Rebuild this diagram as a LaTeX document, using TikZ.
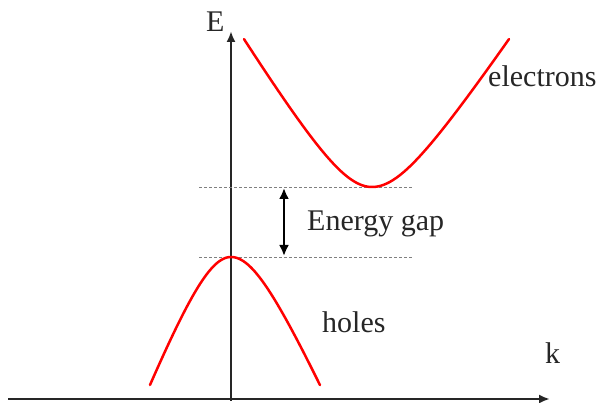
\documentclass[tikz,border=0pt]{standalone}
\usepackage{fontspec}
\setmainfont{Liberation Serif}
\usetikzlibrary{arrows.meta}
\begin{document}
\begin{tikzpicture}[x=1pt,y=-1pt,
  axis/.style={line width=2.8pt,draw=black!85,-{Latex[length=11pt,width=9pt]}},
  band/.style={line width=2.5pt,draw=red,line cap=round},
  level/.style={line width=0.9pt,draw=gray,dash pattern=on 3pt off 2pt},
  gaparrow/.style={line width=2.8pt,{Latex[length=11pt,width=10pt]}-{Latex[length=11pt,width=10pt]}},
  lbl/.style={font=\fontsize{30}{33}\selectfont,inner sep=0pt,anchor=base west,text=black!85}]
\useasboundingbox (0,0) rectangle (603,403);
% axes
\coordinate (kstart) at (8,399);
\coordinate (kend) at (550,399);
\coordinate (estart) at (231,401);
\coordinate (eend) at (231,31);
\draw[axis] (kstart) -- (kend);
\draw[axis] (estart) -- (eend);
% levels
\coordinate (cbL) at (199,187);
\coordinate (cbR) at (413,187);
\coordinate (vbL) at (199,257);
\coordinate (vbR) at (413,257);
\draw[level] (cbL) -- (cbR);
\draw[level] (vbL) -- (vbR);
% gap arrow
\coordinate (gtop) at (284,188);
\coordinate (gbot) at (284,256);
\draw[gaparrow] (gtop) -- (gbot);
% electrons band
\draw[band] plot[domain=-128:0,samples=80] ({372+\x},{187-73.4*(sqrt(1+(\x/45)^2)-1)})
  -- plot[domain=0:137,samples=80] ({372+\x},{187-67.1*(sqrt(1+(\x/45)^2)-1)});
% holes band
\draw[band] plot[domain=-81:0,samples=80] ({231+\x},{257+101.7*(sqrt(1+(\x/40)^2)-1)})
  -- plot[domain=0:89,samples=80] ({231+\x},{257+89.0*(sqrt(1+(\x/40)^2)-1)});
% labels
\node[lbl] (E) at (206,32) {E};
\node[lbl] (k) at (545,364) {k};
\node[lbl] (el) at (488,87) {electrons};
\node[lbl] (gap) at (307,231) {Energy gap};
\node[lbl] (ho) at (322,333) {holes};
\end{tikzpicture}
\end{document}
